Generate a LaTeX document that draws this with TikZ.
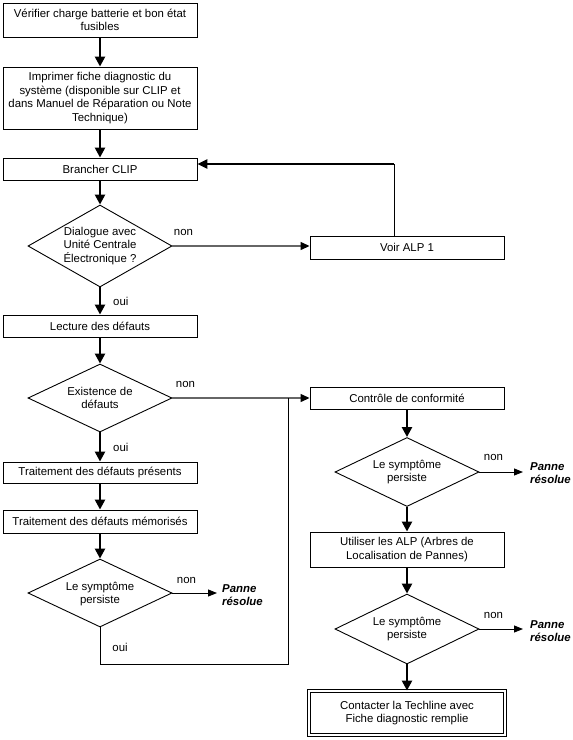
\documentclass[tikz,border=0pt]{standalone}
\usepackage{fontspec}
\setmainfont{Liberation Sans}
\usetikzlibrary{shapes.geometric,arrows.meta,calc}
\begin{document}
\begin{tikzpicture}[x=1pt,y=-1pt,
  every node/.style={font=\fontsize{11.4}{13.5}\selectfont},
  box/.style={draw, line width=0.9pt, minimum width=194pt, inner sep=0pt, align=center},
  dia/.style={draw, diamond, line width=0.9pt, inner sep=0pt, minimum width=144pt},
  flowarrow/.style={line width=2.4pt, -{Triangle[length=10pt,width=10pt]}},
  grayarrow/.style={line width=1.3pt, draw=black!60, -{Triangle[length=9pt,width=8pt,color=black]}},
  thinarrow/.style={line width=0.9pt, -{Triangle[length=9pt,width=7pt]}},
  plainline/.style={line width=0.9pt},
  lbl/.style={inner sep=0pt},
  res/.style={font=\fontsize{11.4}{13.5}\selectfont\bfseries\itshape, align=left, anchor=west, inner xsep=5pt, inner ysep=0pt}
]
\useasboundingbox (0,0) rectangle (573,740);

% left column
\node[box, minimum height=34pt] (b1) at (100,20) {Vérifier charge batterie et bon état\\fusibles};
\node[box, minimum height=62pt] (b2) at (100,98) {Imprimer fiche diagnostic du\\système (disponible sur CLIP et\\dans Manuel de Réparation ou Note\\Technique)};
\node[box, minimum height=22pt] (b3) at (100,169) {Brancher CLIP};
\node[dia, minimum height=82pt, label={[align=center]center:Dialogue avec\\Unité Centrale\\Électronique ?}] (d1) at (100,246) {};
\node[box, minimum height=22pt] (b4) at (100,326) {Lecture des défauts};
\node[dia, minimum height=68pt, label={[align=center]center:Existence de\\défauts}] (d2) at (100,398) {};
\node[box, minimum height=21pt] (b5) at (100,472.5) {Traitement des défauts présents};
\node[box, minimum height=23pt] (b6) at (100,521.5) {Traitement des défauts mémorisés};
\node[dia, minimum height=68pt, label={[align=center, yshift=-1pt]center:Le symptôme\\persiste}] (d3) at (100,593) {};
\node[res] (p1) at (217,595) {Panne\\résolue};

% right column
\node[box, minimum height=23pt] (voir) at (407,247.5) {Voir ALP 1};
\node[box, minimum height=22pt] (c1) at (407,398) {Contrôle de conformité};
\node[dia, minimum height=69pt, label={[align=center]center:Le symptôme\\persiste}] (d4) at (407,472) {};
\node[res, inner xsep=7pt] (p2) at (523,473) {Panne\\résolue};
\node[box, minimum height=35pt] (b7) at (407,549.5) {Utiliser les ALP (Arbres de\\Localisation de Pannes)};
\node[dia, minimum height=70pt, label={[align=center]center:Le symptôme\\persiste}] (d5) at (407,629) {};
\node[res, inner xsep=7pt] (p3) at (523,631) {Panne\\résolue};
\node[box, double, double distance=2.2pt, minimum width=196pt, minimum height=44pt] (b8) at (407,713) {Contacter la Techline avec\\Fiche diagnostic remplie};

\coordinate (cb) at (394,164);
\coordinate (lj) at (288,664);

% vertical flow
\draw[flowarrow] (b1) -- (b2);
\draw[flowarrow] (b2) -- (b3);
\draw[flowarrow] (b3) -- (d1);
\draw[flowarrow] (d1) -- node[midway, lbl, anchor=west, xshift=12pt]{oui} (b4);
\draw[flowarrow] (b4) -- (d2);
\draw[flowarrow] (d2) -- node[midway, lbl, anchor=west, xshift=12pt]{oui} (b5);
\draw[flowarrow] (b5) -- (b6);
\draw[flowarrow] (b6) -- (d3);
\draw[flowarrow] (c1) -- (d4);
\draw[flowarrow] (d4) -- (b7);
\draw[flowarrow] (b7) -- (d5);
\draw[flowarrow] (d5) -- (b8);

% side branches
\draw[grayarrow] (d1.east) -- node[pos=0, lbl, xshift=11pt, yshift=14pt]{non} (d1.east -| voir.west);
\draw[grayarrow] (d2.east) -- node[pos=0, lbl, xshift=13pt, yshift=13.5pt]{non} (d2.east -| c1.west);
\draw[thinarrow] (d3.east) -- node[pos=0, lbl, xshift=14pt, yshift=13pt]{non} (d3.east -| p1.west);
\draw[thinarrow] (d4.east) -- node[pos=0, lbl, xshift=14pt, yshift=15pt]{non} (d4.east -| p2.west);
\draw[thinarrow] (d5.east) -- node[pos=0, lbl, xshift=14pt, yshift=14pt]{non} (d5.east -| p3.west);

% return to Brancher CLIP
\draw[plainline] (voir.north -| cb) -- (cb);
\draw[line width=2.6pt, -{Triangle[length=10pt,width=9pt]}] (cb) -- (cb -| b3.east);

% loop from last left diamond
\draw[plainline] (d3.south) -- node[pos=0.55, lbl, anchor=west, xshift=12pt]{oui} (d3.south |- lj) -- (lj) -- (lj |- d2.east);
\end{tikzpicture}
\end{document}
